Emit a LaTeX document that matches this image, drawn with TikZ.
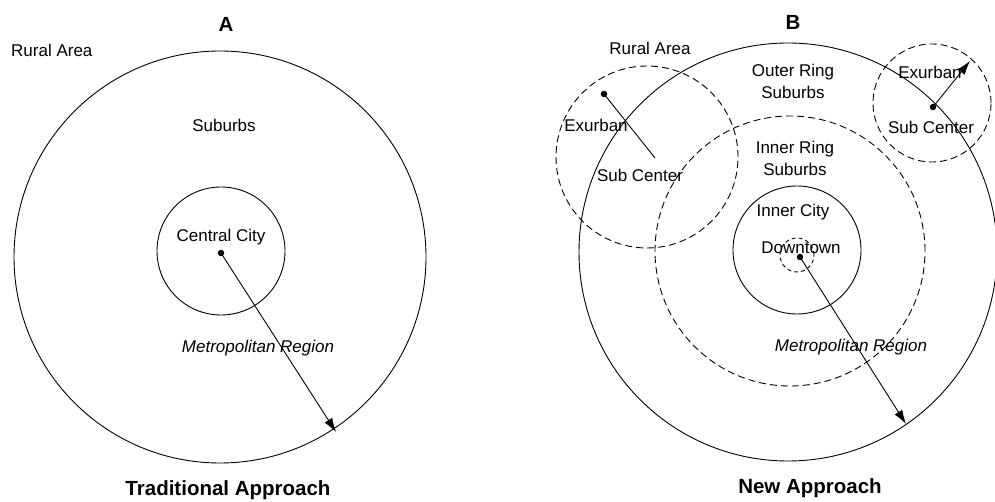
\documentclass[tikz,border=0pt]{standalone}
\usepackage{fontspec}
\setmainfont{Liberation Sans}
\usetikzlibrary{arrows.meta}
\begin{document}
\begin{tikzpicture}[x=1pt,y=-1pt,
  ring/.style={draw, circle, inner sep=0pt, line width=0.9pt},
  dring/.style={ring, dash pattern=on 7pt off 4pt},
  lbl/.style={font=\fontsize{17}{19}\selectfont, inner sep=0pt},
  ilbl/.style={font=\fontsize{17}{19}\selectfont\itshape, inner sep=0pt},
  blbl/.style={font=\fontsize{20.5}{22}\selectfont\bfseries, inner sep=0pt},
  twoline/.style={lbl, align=center, font=\fontsize{17}{22}\selectfont},
  arr/.style={line width=0.9pt, -{Latex[length=14pt,width=9pt]}},
  seg/.style={line width=0.9pt},
  dot/.style={fill, circle, inner sep=0pt, minimum size=6.5pt}
]
\useasboundingbox[fill=white] (0,0) rectangle (995,502);

% ---------- Panel A ----------
\node[ring, minimum size=412pt] (outerA) at (220,257) {};
\node[ring, minimum size=128pt] (cityA) at (221,251) {};
\node[dot] (cA) at (221,253) {};
\coordinate (eA) at (336,432);
\draw[arr] (cA.center) -- (eA);

\node[blbl] (tA) at (226,24) {A};
\node[lbl, anchor=west] (ruralA) at (11,50) {Rural Area};
\node[lbl] (subA) at (224,125) {Suburbs};
\node[lbl] (ccA) at (221,237) {Central City};
\node[ilbl] (metA) at (258,348) {Metropolitan Region};
\node[blbl] (capA) at (228,490) {Traditional Approach};

% ---------- Panel B ----------
\node[ring, minimum size=418pt] (outerB) at (788,252) {};
\node[dring, minimum size=270pt] (innerB) at (790,251) {};
\node[ring, minimum size=128pt] (cityB) at (797,250) {};
\node[dring, minimum size=34pt, dash pattern=on 4pt off 3pt] (downB) at (797,255) {};
\node[dring, minimum size=182pt] (exL) at (647,157) {};
\node[dring, minimum size=118pt] (exR) at (932,103) {};

\node[dot] (cB) at (800,257) {};
\coordinate (eB) at (906,424);
\draw[arr] (cB.center) -- (eB);

\node[dot] (dL) at (604,94) {};
\coordinate (eL) at (655,158);
\draw[seg] (dL.center) -- (eL);

\node[dot] (dR) at (933,107) {};
\coordinate (eR) at (970,61);
\draw[arr] (dR.center) -- (eR);

\node[blbl] (tB) at (793,22) {B};
\node[lbl] (ruralB) at (650,48) {Rural Area};
\node[twoline] (outerlbl) at (793,81) {Outer Ring\\Suburbs};
\node[lbl] (exLl) at (596,125) {Exurban};
\node[lbl] (scL) at (640,175) {Sub Center};
\node[twoline] (innerlbl) at (795,158) {Inner Ring\\Suburbs};
\node[lbl] (icB) at (793,212) {Inner City};
\node[lbl] (dtB) at (801,248) {Downtown};
\node[ilbl] (metB) at (851,347) {Metropolitan Region};
\node[lbl] (exRl) at (930,72) {Exurban};
\node[lbl] (scR) at (931,127) {Sub Center};
\node[blbl] (capB) at (810,488) {New Approach};
\end{tikzpicture}
\end{document}
